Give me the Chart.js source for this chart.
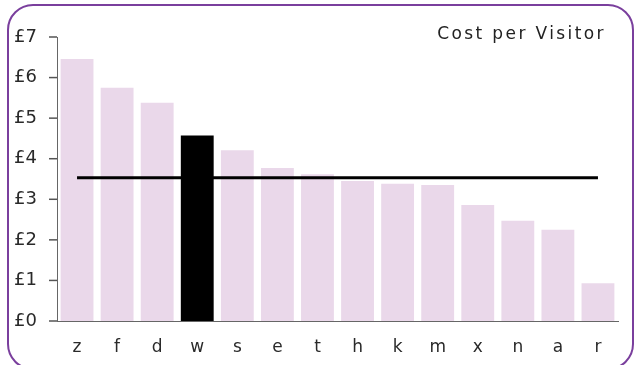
<!DOCTYPE html>
<html>
<head>
<meta charset="utf-8">
<script src="https://cdn.jsdelivr.net/npm/chart.js@4"></script>
<style>
    html, body { margin: 0; padding: 0; background: #fff; }
    #wrap { position: relative; width: 640px; height: 365px; overflow: hidden; }
    #frame {
        position: absolute; left: 7px; top: 4px; width: 623px; height: 362px;
        border: 2px solid #7a3f9d; border-radius: 26px; box-sizing: content-box;
    }
    #title {
        position: absolute; right: 34px; top: 23px; line-height: 20px;
        font: 17px "DejaVu Sans", sans-serif; letter-spacing: 2.4px; color: #222;
    }
    canvas { position: absolute; left: 0; top: 0; }
</style>
</head>
<body>
<div id="wrap">
    <div id="frame"></div>
    <canvas id="cpv" width="640" height="365"></canvas>
    <div id="title">Cost per Visitor</div>
</div>
<script>
// Cost per visitor by site, with the overall average drawn across.
const categories = ['z', 'f', 'd', 'w', 's', 'e', 't', 'h', 'k', 'm', 'x', 'n', 'a', 'r'];
const costs = [6.46, 5.75, 5.38, 4.57, 4.21, 3.77, 3.62, 3.45, 3.38, 3.35, 2.86, 2.47, 2.25, 0.93];
const averageCost = 3.53;
const highlighted = 'w';

const FONT = '"DejaVu Sans", sans-serif';
const TICK_LEN = 8;

// Short outward tick marks on the value axis, placed by the y scale.
const yTickMarks = {
    id: 'yTickMarks',
    afterDraw(chart) {
        const s = chart.scales.y;
        const x = chart.chartArea.left;
        const ctx = chart.ctx;
        ctx.save();
        ctx.strokeStyle = '#555';
        ctx.lineWidth = 1.5;
        for (const t of s.ticks) {
            const y = s.getPixelForValue(t.value);
            ctx.beginPath();
            ctx.moveTo(x - TICK_LEN, y);
            ctx.lineTo(x, y);
            ctx.stroke();
        }
        ctx.restore();
    }
};

new Chart(document.getElementById('cpv').getContext('2d'), {
    data: {
        labels: categories,
        datasets: [
            {
                type: 'line', order: 0,
                data: categories.map(() => averageCost),
                borderColor: '#000', borderWidth: 3, pointRadius: 0, tension: 0,
            },
            {
                type: 'bar', order: 1,
                data: costs,
                backgroundColor: categories.map(c => c === highlighted ? '#000' : '#ead8ea'),
                barPercentage: 0.82, categoryPercentage: 1,
            },
        ]
    },
    plugins: [yTickMarks],
    options: {
        responsive: false, animation: false,
        layout: { padding: { left: 0, right: 22, top: 37, bottom: 0 } },
        plugins: { legend: { display: false }, tooltip: { enabled: false } },
        scales: {
            x: {
                grid: { display: false, drawTicks: false },
                border: { display: true, color: '#666', width: 1 },
                ticks: { color: '#2a2a2a', padding: 16, font: { family: FONT, size: 17 } },
                afterFit: s => { s.height = 44; },
            },
            y: {
                min: 0, max: 7,
                grid: { display: false, drawTicks: false },
                border: { display: true, color: '#666', width: 1 },
                ticks: {
                    stepSize: 1, color: '#2a2a2a', padding: 20,
                    font: { family: FONT, size: 18 },
                    callback: v => '£' + v,
                },
                afterFit: s => { s.width = 57; },
            }
        }
    }
});
</script>
</body>
</html>
